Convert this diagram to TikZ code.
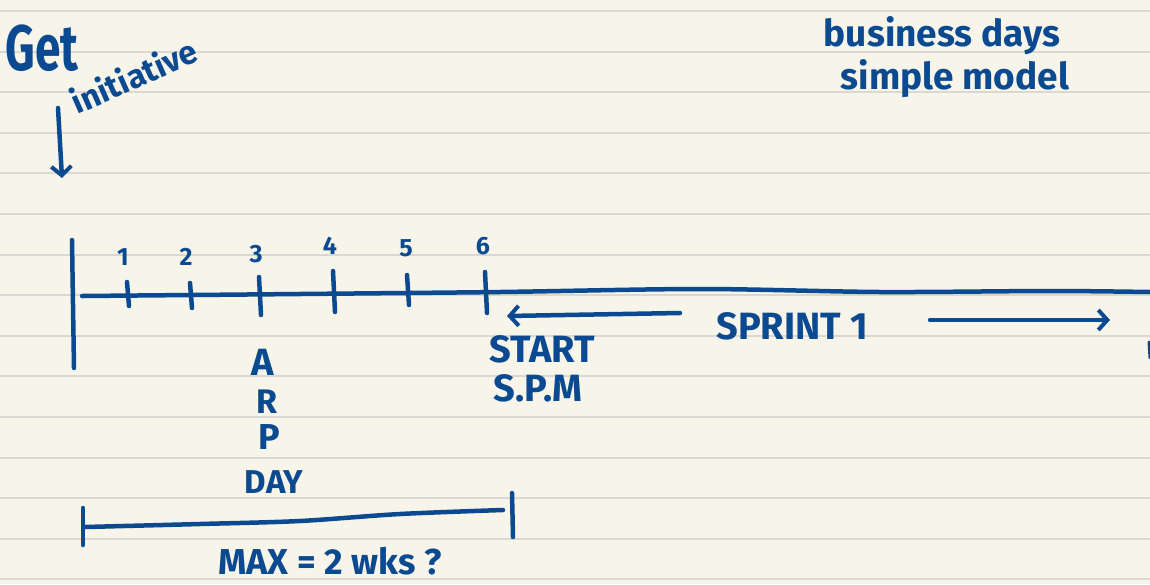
\documentclass[tikz,border=0pt]{standalone}
\usepackage{fontspec}
\setmainfont{Fira Sans}
\usetikzlibrary{arrows.meta}
\definecolor{paper}{HTML}{F7F4E9}
\definecolor{rulecol}{HTML}{DAD8D2}
\definecolor{ink}{HTML}{0B4A90}
\newcommand{\fs}[1]{\fontsize{#1}{#1}\selectfont\bfseries}
\begin{document}
\begin{tikzpicture}[x=1pt,y=-1pt,
  pen/.style={draw=ink,line width=4.5pt,line cap=round,line join=round},
  hw/.style={text=ink,inner sep=0pt,font=\fs{26}},
  chev/.style={-{Straight Barb[length=9pt,width=20pt,line width=4pt]}}]
\fill[paper] (0,0) rectangle (1150,584);
\useasboundingbox (0,0) rectangle (1150,584);
\foreach \k in {0,...,14} \draw[rulecol,line width=2pt] (0,{11+40.6*\k}) -- (1150,{11+40.6*\k});

% top-left notes
\node[hw,font=\fs{46},yscale=1.4] (get) at (42,48) {Get};
\node[hw,font=\fs{33},rotate=24,anchor=west] (init) at (72,103) {initiative};
\coordinate (dtop) at (58,108);
\coordinate (dbot) at (62,178);
\draw[pen,chev] (dtop) -- (dbot);

% top-right notes
\node[hw,font=\fs{37}] (biz) at (942,36) {business days};
\node[hw,font=\fs{37}] (simple) at (955,79) {simple model};

% main axis
\coordinate (vtop) at (72,240);
\coordinate (vbot) at (74,368);
\draw[pen] (vtop) -- (vbot);
\draw[pen] plot[smooth] coordinates {(82,296) (300,294) (500,292) (700,289) (880,292) (1050,291) (1150,292)};

% ticks and numbers
\foreach \n/\x/\a/\b/\nx/\ny in {1/127/282/306/123/257, 2/190/283/308/186/257, 3/259/277/315/256/254, 4/333/271/312/330/246, 5/407/275/305/406/248, 6/485/272/313/483/246}{
  \coordinate (t\n top) at (\x,\a);
  \coordinate (t\n bot) at (\x+2,\b);
  \draw[pen] (t\n top) -- (t\n bot);
  \node[hw,font=\fs{25}] (num\n) at (\nx,\ny) {\n};
}

% sprint arrows
\coordinate (la) at (680,313);
\coordinate (lb) at (507,316);
\draw[pen,chev] (la) -- (lb);
\node[hw,font=\fs{38}] (sprint) at (792,326) {SPRINT 1};
\coordinate (ra) at (930,320);
\coordinate (rb) at (1110,320);
\draw[pen,chev] (ra) -- (rb);
\draw[pen,line width=3pt] (1149,342) -- (1150,358);

\node[hw,font=\fs{38}] (start) at (542,349) {START};
\node[hw,font=\fs{38}] (spm) at (538,388) {S.P.M};

% ARP DAY
\node[hw,font=\fs{38}] (A) at (263,362) {A};
\node[hw,font=\fs{34}] (R) at (267,402) {R};
\node[hw,font=\fs{36}] (P) at (269,437) {P};
\node[hw,font=\fs{33}] (day) at (274,482) {DAY};

% bracket
\coordinate (bl) at (83,508);
\coordinate (bl2) at (83,545);
\coordinate (br) at (512,493);
\coordinate (br2) at (513,537);
\draw[pen] (bl) -- (bl2);
\draw[pen] (br) -- (br2);
\draw[pen] plot[smooth] coordinates {(85,527) (200,524) (300,521) (400,514) (503,510)};
\node[hw,font=\fs{36}] (max) at (330,561) {MAX = 2 wks ?};
\end{tikzpicture}
\end{document}
